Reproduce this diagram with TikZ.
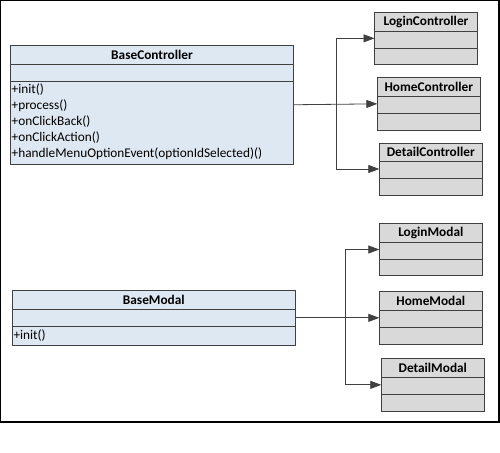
\documentclass[tikz,border=0pt]{standalone}
\usepackage{fontspec}
\setmainfont{Carlito}
\usetikzlibrary{arrows.meta,calc}
\definecolor{bluefill}{RGB}{222,232,242}
\definecolor{grayfill}{RGB}{217,217,217}
\definecolor{edge}{RGB}{64,64,64}
\tikzset{
  clsbox/.style={draw=edge, line width=0.9pt, anchor=north west, inner sep=0pt, outer sep=0pt},
  sep/.style={draw=edge, line width=0.9pt},
  ttl/.style={font=\fontsize{13.3}{16}\selectfont\bfseries, inner sep=0pt, anchor=center},
  mth/.style={font=\fontsize{13.3}{16}\selectfont, inner sep=0pt, anchor=west},
  conn/.style={draw=edge, line width=0.8pt},
  arr/.style={conn, -{Triangle[length=11pt,width=8pt]}},
}
\begin{document}
\begin{tikzpicture}[x=1pt,y=-1pt]
\useasboundingbox (0,0) rectangle (500,452);
\draw[black, line width=1.2pt] (0.6,0.6) rectangle (499,422);

% BaseController
\node[clsbox, fill=bluefill, minimum width=283pt, minimum height=118.5pt] (bc) at (10.5,45.5) {};
\draw[sep] (10.5,64.3) -- (293.5,64.3);
\draw[sep] (10.5,81.3) -- (293.5,81.3);
\node[ttl] (bct) at (152,54.5) {BaseController};
\node[mth] (m1) at (11.5,90) {+init()};
\node[mth] (m2) at (11.5,106) {+process()};
\node[mth] (m3) at (11.5,122) {+onClickBack()};
\node[mth] (m4) at (11.5,138) {+onClickAction()};
\node[mth] (m5) at (11.5,154) {+handleMenuOptionEvent(optionIdSelected)()};

% LoginController
\node[clsbox, fill=grayfill, minimum width=103pt, minimum height=51.3pt] (lc) at (374.5,12.7) {};
\draw[sep] (374.5,31.7) -- (477.5,31.7);
\draw[sep] (374.5,48.7) -- (477.5,48.7);
\node[ttl] (lct) at (426,21.5) {LoginController};

% HomeController
\node[clsbox, fill=grayfill, minimum width=103pt, minimum height=52.3pt] (hc) at (377.3,77.7) {};
\draw[sep] (377.3,96.7) -- (480.3,96.7);
\draw[sep] (377.3,113.3) -- (480.3,113.3);
\node[ttl] (hct) at (428.8,86.7) {HomeController};

% DetailController
\node[clsbox, fill=grayfill, minimum width=103pt, minimum height=52pt] (dc) at (379.3,143) {};
\draw[sep] (379.3,161.7) -- (482.3,161.7);
\draw[sep] (379.3,178.3) -- (482.3,178.3);
\node[ttl] (dct) at (430.8,152) {DetailController};

% BaseModal
\node[clsbox, fill=bluefill, minimum width=283pt, minimum height=54.3pt] (bm) at (12.3,290.7) {};
\draw[sep] (12.3,309.3) -- (295.3,309.3);
\draw[sep] (12.3,326.3) -- (295.3,326.3);
\node[ttl] (bmt) at (153.8,300) {BaseModal};
\node[mth] (bm1) at (13.3,335.5) {+init()};

% LoginModal
\node[clsbox, fill=grayfill, minimum width=103pt, minimum height=51.6pt] (lm) at (379.3,223.7) {};
\draw[sep] (379.3,242.3) -- (482.3,242.3);
\draw[sep] (379.3,259.3) -- (482.3,259.3);
\node[ttl] (lmt) at (430.8,232.5) {LoginModal};

% HomeModal
\node[clsbox, fill=grayfill, minimum width=103pt, minimum height=52.3pt] (hm) at (379.3,291.7) {};
\draw[sep] (379.3,310.7) -- (482.3,310.7);
\draw[sep] (379.3,327.3) -- (482.3,327.3);
\node[ttl] (hmt) at (430.8,300.7) {HomeModal};

% DetailModal
\node[clsbox, fill=grayfill, minimum width=103pt, minimum height=52.3pt] (dm) at (381.3,358.7) {};
\draw[sep] (381.3,377.7) -- (484.3,377.7);
\draw[sep] (381.3,394.3) -- (484.3,394.3);
\node[ttl] (dmt) at (432.8,367.5) {DetailModal};

% connectors (controllers)
\coordinate (t1) at (336.7,0);
\draw[arr] (bc.east) -- (hc.west);
\draw[arr] (t1 |- bc.east) |- (lc.west);
\draw[arr] (t1 |- bc.east) |- (dc.west);

% connectors (modals)
\coordinate (t2) at (345.3,0);
\draw[arr] (bm.east) -- (hm.west);
\draw[arr] (t2 |- bm.east) |- (lm.west);
\draw[arr] (t2 |- bm.east) |- (dm.west);
\end{tikzpicture}
\end{document}
